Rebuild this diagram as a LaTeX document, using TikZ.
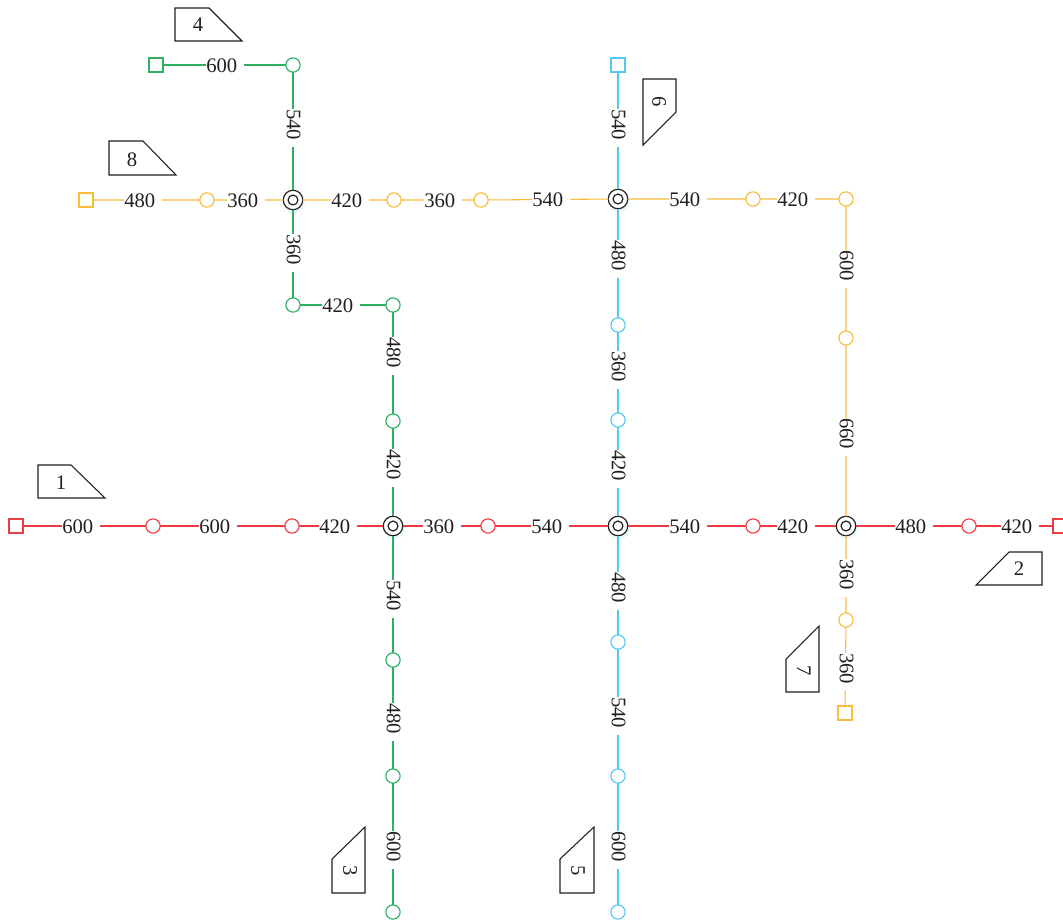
\documentclass[tikz,border=0pt]{standalone}
\usepackage{fontspec}
\setmainfont{Liberation Serif}
\definecolor{cred}{HTML}{EE3A43}
\definecolor{cgreen}{HTML}{2DB060}
\definecolor{cblue}{HTML}{55C8F0}
\definecolor{cyellow}{HTML}{F9BC3C}
\definecolor{ink}{HTML}{231F20}
\tikzset{
  x=0.75pt,y=-0.75pt,
  conn/.style={line width=0.8pt},
  stn/.style={circle,draw,fill=white,line width=0.85pt,minimum size=10.7pt,inner sep=0pt,outer sep=0pt},
  term/.style={rectangle,draw,fill=white,line width=0.85pt,minimum size=10.5pt,inner sep=0pt,outer sep=0pt},
  hub/.style={circle,draw=ink,fill=white,line width=0.9pt,minimum size=14.6pt,inner sep=0pt,outer sep=0pt,
    path picture={\draw[ink,line width=0.9pt] (path picture bounding box.center) circle (3.7pt);}},
  hubglow/.style={circle,fill=cblue,opacity=0.13,minimum size=17pt,inner sep=0pt},
  hlab/.style={fill=white,inner sep=0pt,text width=28.5pt,align=left,font=\fontsize{15.5pt}{16pt}\selectfont,text=ink,minimum height=13pt,anchor=west,yshift=-0.4pt},
  vlab/.style={hlab,rotate=-90,yshift=0.4pt,xshift=-0.4pt},
  tag/.style={draw=ink,line width=0.8pt},
  tagtext/.style={inner sep=0pt,font=\fontsize{15.5pt}{16pt}\selectfont,text=ink},
}
\begin{document}
\begin{tikzpicture}
\useasboundingbox (0,0) rectangle (1063,921);
% stations
\foreach \n/\x/\y/\c in {
 r1/153/526/cred,r2/292/526/cred,r3/488/526/cred,r4/753/526/cred,r5/969/526/cred,
 g1/393/660/cgreen,g2/393/776/cgreen,g3/393/912/cgreen,g4/393/421/cgreen,g5/393/305/cgreen,g6/293/305/cgreen,g7/293/65/cgreen,
 b1/618/325/cblue,b2/618/420/cblue,b3/618/642/cblue,b4/618/776/cblue,b5/618/912/cblue,
 y1/207/200/cyellow,y2/394/200/cyellow,y3/481/200/cyellow,y4/753/199/cyellow,y5/846/199/cyellow,y6/846/338/cyellow,y7/846/620/cyellow}
 {\node[stn,draw=\c] (\n) at (\x,\y) {};}
\foreach \n/\x/\y/\c in {
 rs/16/526/cred,re/1060/526/cred,gs/156/65/cgreen,bs/618/65/cblue,ys/86/200/cyellow,ye/845/713/cyellow}
 {\node[term,draw=\c] (\n) at (\x,\y) {};}
% hubs
\foreach \n/\x/\y in {H1/293/200,H2/618/199,H3/393/526,H4/618/526,H5/846/526}
 {\node[hubglow] at (\x+1,\y+2) {};
  \node[hub] (\n) at (\x,\y) {};}
% connectors
\draw[conn,cred] (rs)--(r1)--(r2)--(H3)--(r3)--(H4)--(r4)--(H5)--(r5)--(re);
\draw[conn,cgreen] (gs)--(g7)--(H1)--(g6)--(g5)--(g4)--(H3)--(g1)--(g2)--(g3);
\draw[conn,cblue] (bs)--(H2)--(b1)--(b2)--(H4)--(b3)--(b4)--(b5);
\draw[conn,cyellow] (ys)--(y1)--(H1)--(y2)--(y3)--(H2)--(y4)--(y5)--(y6)--(H5)--(y7)--(ye);
% horizontal labels
\foreach \i/\x/\y/\t in {a/62/526/600,b/199/526/600,c/319/526/420,d/423/526/360,e/531/526/540,f/669/526/540,g/777/526/420,h/895/526/480,i/1001/526/420,
 j/206/65/600,k/322/305/420,l/124/200/480,m/227/200/360,n/331/200/420,o/424/200/360,p/532/199/540,q/669/199/540,r/777/199/420}
 {\node[hlab] (lh\i) at (\x,\y) {\t};}
% vertical labels
\foreach \i/\x/\y/\t in {a/393/580/540,b/393/703/480,c/393/831/600,d/393/449/420,e/393/337/480,f/293/234/360,g/293/109/540,
 h/618/109/540,i/618/240/480,j/618/351/360,k/618/450/420,l/618/572/480,m/618/697/540,n/618/831/600,
 o/846/250/600,p/846/418/660,q/846/559/360,r/846/653/360}
 {\node[vlab] (lv\i) at (\x,\y) {\t};}
% line tags
\draw[tag] (175,8)--(209,8)--(242,41)--(175,41)--cycle;
\node[tagtext] (t4) at (198,25) {4};
\draw[tag] (109,141)--(143,141)--(176,175)--(109,175)--cycle;
\node[tagtext] (t8) at (132,160) {8};
\draw[tag] (38,465)--(71,465)--(105,498)--(38,498)--cycle;
\node[tagtext] (t1) at (61,483) {1};
\draw[tag] (976,585)--(1009,552)--(1042,552)--(1042,585)--cycle;
\node[tagtext] (t2) at (1019,569) {2};
\draw[tag] (786,692)--(786,659)--(819,626)--(819,692)--cycle;
\node[tagtext,rotate=-90] (t7) at (804,671) {7};
\draw[tag] (332,893)--(332,859)--(365,827)--(365,893)--cycle;
\node[tagtext,rotate=-90] (t3) at (350,871) {3};
\draw[tag] (560,893)--(560,859)--(594,827)--(594,893)--cycle;
\node[tagtext,rotate=-90] (t5) at (578,871) {5};
\draw[tag] (643,79)--(676,79)--(676,112)--(643,145)--cycle;
\node[tagtext,rotate=-90] (t6) at (659,102) {6};
\end{tikzpicture}
\end{document}
